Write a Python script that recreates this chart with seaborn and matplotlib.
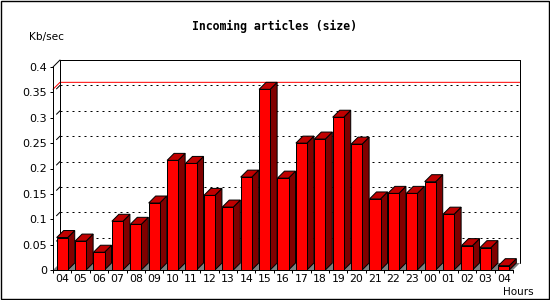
import numpy as np
import matplotlib
matplotlib.use("Agg")
import matplotlib.pyplot as plt
from matplotlib.patches import Polygon, Rectangle
from matplotlib.lines import Line2D
from matplotlib.ticker import FixedLocator, FixedFormatter
import seaborn as sns

# ---- data ----
hours = ["04", "05", "06", "07", "08", "09", "10", "11", "12", "13", "14", "15",
         "16", "17", "18", "19", "20", "21", "22", "23", "00", "01", "02", "03", "04"]
kbps = [0.064, 0.057, 0.035, 0.096, 0.090, 0.132, 0.216, 0.210, 0.147, 0.124,
        0.183, 0.356, 0.181, 0.250, 0.258, 0.301, 0.248, 0.140, 0.151, 0.151,
        0.174, 0.110, 0.048, 0.044, 0.0085]
y_ticks = [0, 0.05, 0.1, 0.15, 0.2, 0.25, 0.3, 0.35, 0.4]
y_tick_labels = ["0", "0.05", "0.1", "0.15", "0.2", "0.25", "0.3", "0.35", "0.4"]
title = "Incoming articles (size)"
y_unit = "Kb/sec"
x_unit = "Hours"

# ---- style ----
sns.set_theme(style="white")
plt.rcParams["font.family"] = ["DejaVu Sans"]
plt.rcParams["text.color"] = "black"
plt.rcParams["lines.scale_dashes"] = False

FRONT = "#ff0000"
SIDE = "#800000"
TOP = "#c00000"
FLOOR = "#808080"
LW = 0.72          # 1 px
DEPTH_PX = 7

W, H = 550, 300
fig = plt.figure(figsize=(W / 100, H / 100), dpi=100, facecolor="white")
ax = fig.add_axes([53 / W, 30 / H, 460 / W, 203 / H])
ax.patch.set_visible(False)

n = len(kbps)
sns.barplot(x=np.arange(n), y=kbps, color=FRONT, saturation=1, width=0.6,
            edgecolor="black", linewidth=LW, ax=ax, zorder=3)

ax.set_xlim(-0.5, n - 0.5)
ax.set_ylim(0, 0.4)
ax.set_xlabel("")
ax.set_ylabel("")

# depth in data units derived from axes geometry
pos = ax.get_position()
DX = DEPTH_PX * (n) / (pos.width * W)
DY = DEPTH_PX * 0.4 / (pos.height * H)

x0, x1 = -0.5, n - 0.5
ytop = 0.4

# back wall
ax.add_patch(Rectangle((x0 + DX, DY), x1 - x0, ytop, facecolor="white",
                       edgecolor="none", zorder=0.5, clip_on=False))
for xs, ys in [([x0 + DX, x0 + DX], [DY, ytop + DY]),
               ([x0 + DX, x1 + DX], [ytop + DY, ytop + DY]),
               ([x1 + DX, x1 + DX], [DY, ytop + DY]),
               ([x0, x0 + DX], [ytop, ytop + DY])]:
    ax.add_line(Line2D(xs, ys, color="black", lw=LW, zorder=0.9, clip_on=False))

# dotted gridlines on back wall + short slants on side wall
for v in y_ticks[1:-1]:
    ax.add_line(Line2D([x0 + DX, x1 + DX], [v + DY, v + DY], color="black",
                       lw=LW, linestyle=(0, (1.44, 2.88)), zorder=0.6, clip_on=False))
    ax.add_line(Line2D([x0 + 0.5 * DX, x0 + DX], [v + 0.5 * DY, v + DY],
                       color="black", lw=LW, zorder=0.6, clip_on=False))

# floor
ax.add_patch(Polygon([(x0, 0), (x1, 0), (x1 + DX, DY), (x0 + DX, DY)],
                     closed=True, facecolor=FLOOR, edgecolor="none",
                     zorder=0.7, clip_on=False))

# maximum line
m = max(kbps)
ax.add_line(Line2D([x0, x0 + DX, x1 + DX], [m, m + DY, m + DY], color="red",
                   lw=LW, zorder=0.8, clip_on=False))

# 3D faces for bars
for p in ax.patches[:]:
    if not isinstance(p, Rectangle) or p.get_zorder() != 3:
        continue
    bx, bw, bh = p.get_x(), p.get_width(), p.get_height()
    side = Polygon([(bx + bw, 0), (bx + bw + DX, DY), (bx + bw + DX, bh + DY), (bx + bw, bh)],
                   closed=True, facecolor=SIDE, edgecolor="black", lw=LW,
                   zorder=2.9, clip_on=False, joinstyle="miter")
    top = Polygon([(bx, bh), (bx + bw, bh), (bx + bw + DX, bh + DY), (bx + DX, bh + DY)],
                  closed=True, facecolor=TOP, edgecolor="black", lw=LW,
                  zorder=2.9, clip_on=False, joinstyle="miter")
    ax.add_patch(side)
    ax.add_patch(top)

# spines
for s in ["top", "right"]:
    ax.spines[s].set_visible(False)
for s in ["left", "bottom"]:
    ax.spines[s].set_color("black")
    ax.spines[s].set_linewidth(LW)

# ticks
ax.yaxis.set_major_locator(FixedLocator(y_ticks))
ax.yaxis.set_major_formatter(FixedFormatter(y_tick_labels))
ax.tick_params(axis="y", which="major", direction="out", length=2.2, width=LW,
               color="black", pad=2.2, labelsize=8, labelcolor="black", left=True)
ax.xaxis.set_major_locator(FixedLocator(np.arange(n + 1) - 0.5))
ax.xaxis.set_major_formatter(FixedFormatter([""] * (n + 1)))
ax.xaxis.set_minor_locator(FixedLocator(np.arange(n)))
ax.xaxis.set_minor_formatter(FixedFormatter(hours))
ax.tick_params(axis="x", which="major", direction="out", length=2.2, width=LW,
               color="black", bottom=True)
ax.tick_params(axis="x", which="minor", length=0, pad=3, labelsize=7.8,
               labelcolor="black", bottom=True)

# texts
fig.text(274 / W, 1 - 26.7 / H, title, ha="center", va="center", color="black",
         fontsize=8.3, fontweight="bold", family=["DejaVu Sans Mono"])
fig.text(29 / W, 1 - 36.7 / H, y_unit, ha="left", va="center", color="black",
         fontsize=7.6)
fig.text(534 / W, 1 - 292.3 / H, x_unit, ha="right", va="center", color="black",
         fontsize=7.5)

# outer frame
fig.patches.append(Rectangle((0.5 / W, 1.5 / H), 548 / W, 298 / H,
                             transform=fig.transFigure, fill=False,
                             edgecolor="black", lw=LW * 1.4))

fig.savefig("out.png", dpi=100, facecolor="white")
